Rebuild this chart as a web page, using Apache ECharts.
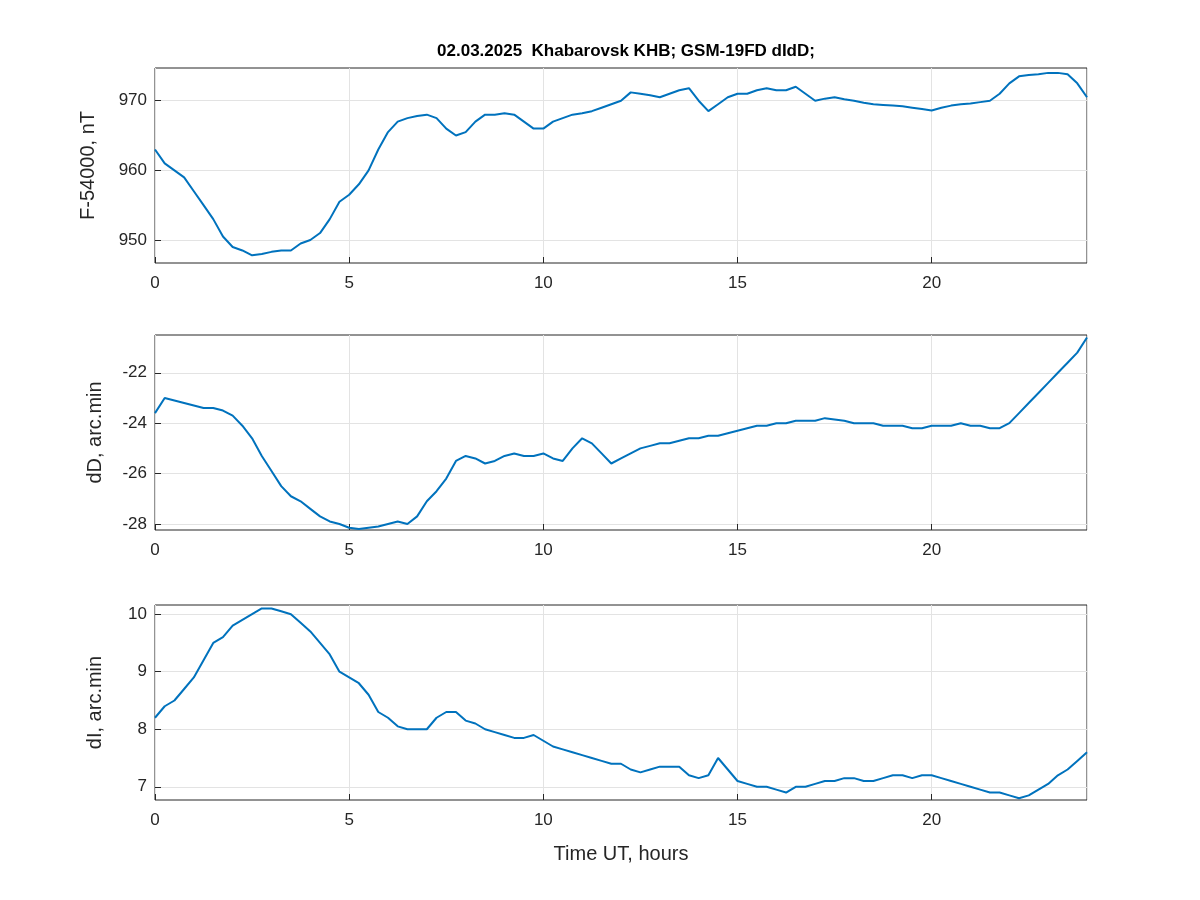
<!DOCTYPE html>
<html><head><meta charset="utf-8">
<script src="https://cdn.jsdelivr.net/npm/echarts@6/dist/echarts.min.js"></script>
<style>html,body{margin:0;background:#fff}#c{width:1200px;height:900px}</style>
</head><body><div id="c"></div>
<script>
const hours = Array.from({length:97},(_,i)=>i*0.25);
const F = [963,961,960,959,957,955,953,950.5,949,948.5,947.8,948,948.3,948.5,948.5,949.5,950,951,953,955.5,956.5,958,960,963,965.5,967,967.5,967.8,968,967.5,966,965,965.5,967,968,968,968.2,968,967,966,966,967,967.5,968,968.2,968.5,969,969.5,970,971.2,971,970.8,970.5,971,971.5,971.8,970,968.5,969.5,970.5,971,971,971.5,971.8,971.5,971.5,972,971,970,970.3,970.5,970.2,970,969.7,969.5,969.4,969.3,969.2,969,968.8,968.6,969,969.3,969.5,969.6,969.8,970,971,972.5,973.5,973.7,973.8,974,974,973.8,972.5,970.5];
const dD = [-23.6,-23,-23.1,-23.2,-23.3,-23.4,-23.4,-23.5,-23.7,-24.1,-24.6,-25.3,-25.9,-26.5,-26.9,-27.1,-27.4,-27.7,-27.9,-28.0,-28.15,-28.2,-28.15,-28.1,-28.0,-27.9,-28.0,-27.7,-27.1,-26.7,-26.2,-25.5,-25.3,-25.4,-25.6,-25.5,-25.3,-25.2,-25.3,-25.3,-25.2,-25.4,-25.5,-25.0,-24.6,-24.8,-25.2,-25.6,-25.4,-25.2,-25.0,-24.9,-24.8,-24.8,-24.7,-24.6,-24.6,-24.5,-24.5,-24.4,-24.3,-24.2,-24.1,-24.1,-24.0,-24.0,-23.9,-23.9,-23.9,-23.8,-23.85,-23.9,-24.0,-24.0,-24.0,-24.1,-24.1,-24.1,-24.2,-24.2,-24.1,-24.1,-24.1,-24.0,-24.1,-24.1,-24.2,-24.2,-24.0,-23.6,-23.2,-22.8,-22.4,-22.0,-21.6,-21.2,-20.6];
const dI = [8.2,8.4,8.5,8.7,8.9,9.2,9.5,9.6,9.8,9.9,10.0,10.1,10.1,10.05,10.0,9.85,9.7,9.5,9.3,9.0,8.9,8.8,8.6,8.3,8.2,8.05,8.0,8.0,8.0,8.2,8.3,8.3,8.15,8.1,8.0,7.95,7.9,7.85,7.85,7.9,7.8,7.7,7.65,7.6,7.55,7.5,7.45,7.4,7.4,7.3,7.25,7.3,7.35,7.35,7.35,7.2,7.15,7.2,7.5,7.3,7.1,7.05,7.0,7.0,6.95,6.9,7.0,7.0,7.05,7.1,7.1,7.15,7.15,7.1,7.1,7.15,7.2,7.2,7.15,7.2,7.2,7.15,7.1,7.05,7.0,6.95,6.9,6.9,6.85,6.8,6.85,6.95,7.05,7.2,7.3,7.45,7.6];
const fTicks = [950,960,970];
const dDTicks = [-28,-26,-24,-22];
const dITicks = [7,8,9,10];

const font = 'Liberation Sans, Arial, sans-serif';
const tops = [68,335,605];
const ranges = [[946.7,974.7],[-28.24,-20.5],[6.77,10.16]];
const names = ['F-54000, nT','dD, arc.min','dI, arc.min'];
const ticks = [fTicks,dDTicks,dITicks];
const sers = [F,dD,dI];
const grid = tops.map(t=>({left:155,right:113,top:t,height:195,show:true,borderColor:'#262626',borderWidth:1,backgroundColor:'#fff'}));
const lbl = {color:'#262626',fontSize:17,fontFamily:font};
const xAxis = tops.map((t,i)=>({type:'value',gridIndex:i,min:0,max:24,interval:5,
  axisLine:{show:false},axisTick:{inside:true,length:6,lineStyle:{color:'#262626'}},
  axisLabel:Object.assign({margin:12,showMaxLabel:false},lbl),
  splitLine:{show:true,lineStyle:{color:'#e3e3e3'}},
  name:i===2?'Time UT, hours':'',nameLocation:'middle',nameGap:44,nameTextStyle:{color:'#262626',fontSize:20,fontFamily:font}}));
const yAxis = tops.map((t,i)=>({type:'value',gridIndex:i,min:ranges[i][0],max:ranges[i][1],
  axisLine:{show:false},
  axisTick:{inside:true,length:6,lineStyle:{color:'#262626'},customValues:ticks[i]},
  axisLabel:Object.assign({margin:8,customValues:ticks[i]},lbl),
  splitLine:{show:true,lineStyle:{color:'#e3e3e3'},customValues:ticks[i]},
  name:names[i],nameLocation:'middle',nameGap:i===0?57:50,nameTextStyle:{color:'#262626',fontSize:20,fontFamily:font}}));
const series = sers.map((s,i)=>({type:'line',xAxisIndex:i,yAxisIndex:i,showSymbol:false,
  data:hours.map((h,j)=>[h,s[j]]),lineStyle:{color:'#0072BD',width:2},itemStyle:{color:'#0072BD'}}));
const chart = echarts.init(document.getElementById('c'));
chart.setOption({animation:false,backgroundColor:'#fff',
  title:{text:'02.03.2025  Khabarovsk KHB; GSM-19FD dIdD;',left:621,top:38,textAlign:'center',textStyle:{fontSize:17,fontWeight:'bold',color:'#000',fontFamily:font}},
  grid,xAxis,yAxis,series});
</script></body></html>
